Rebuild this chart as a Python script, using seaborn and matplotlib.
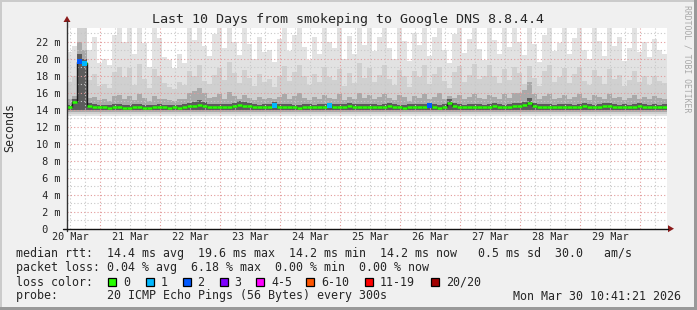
import numpy as np
import pandas as pd
import matplotlib
matplotlib.use("Agg")
import matplotlib.pyplot as plt
import seaborn as sns
from matplotlib.lines import Line2D
from matplotlib.patches import Rectangle, Polygon
from matplotlib.ticker import FixedLocator, FuncFormatter, MultipleLocator

# ---------------- data ----------------
title = "Last 10 Days from smokeping to Google DNS 8.8.4.4"
day_labels = ["20 Mar", "21 Mar", "22 Mar", "23 Mar", "24 Mar",
              "25 Mar", "26 Mar", "27 Mar", "28 Mar", "29 Mar"]
y_major = [0, 2, 4, 6, 8, 10, 12, 14, 16, 18, 20, 22]

# 120 two-hour bins over the 10 days (ms)
smoke_top = [
    20.8, 21.5, 24.0, 24.0, 21.0, 22.5, 19.5, 20.0, 19.2, 22.8,
    24.0, 22.0, 24.0, 20.5, 24.0, 21.8, 19.0, 24.0, 22.4, 20.2,
    19.8, 18.9, 20.6, 19.5, 24.0, 22.2, 24.0, 21.5, 20.3, 22.9,
    24.0, 21.2, 24.0, 22.0, 20.4, 24.0, 21.7, 19.9, 22.6, 20.8,
    21.0, 19.6, 22.3, 24.0, 20.9, 22.8, 24.0, 21.4, 19.8, 22.5,
    20.6, 24.0, 22.0, 21.3, 24.0, 19.9, 22.7, 20.5, 24.0, 21.6,
    24.0, 20.9, 22.5, 24.0, 21.2, 20.0, 24.0, 22.1, 19.7, 23.0,
    21.6, 24.0, 20.3, 22.6, 24.0, 21.0, 19.5, 22.9, 24.0, 20.7,
    22.3, 24.0, 21.1, 19.8, 24.0, 22.2, 20.6, 24.0, 21.4, 24.0,
    22.0, 20.4, 24.0, 21.7, 19.6, 22.8, 24.0, 20.9, 21.8, 24.0,
    20.5, 22.4, 24.0, 21.0, 19.9, 24.0, 22.1, 20.3, 24.0, 21.5,
    22.6, 19.7, 21.3, 24.0, 20.8, 21.9, 20.2, 22.3, 21.0, 20.6]
smoke_upper = [
    17.2, 18.0, 24.0, 24.0, 17.5, 18.2, 16.8, 17.0, 16.6, 18.4,
    19.0, 17.8, 18.9, 16.9, 19.4, 17.6, 16.5, 18.8, 17.9, 17.1,
    16.7, 16.4, 17.3, 16.9, 18.6, 18.0, 19.2, 17.4, 17.0, 18.1,
    18.9, 17.5, 19.6, 18.3, 17.1, 18.7, 17.7, 16.8, 18.2, 17.3,
    17.6, 16.7, 18.0, 19.1, 17.4, 18.4, 19.3, 17.9, 16.9, 18.2,
    17.2, 19.0, 17.8, 17.5, 18.8, 16.8, 18.3, 17.1, 19.5, 17.7,
    18.9, 17.3, 18.1, 19.2, 17.6, 16.9, 18.7, 18.0, 16.7, 18.5,
    17.8, 19.3, 17.0, 18.2, 19.0, 17.4, 16.6, 18.4, 19.1, 17.2,
    18.1, 19.4, 17.6, 17.9, 19.2, 18.0, 17.1, 18.8, 17.5, 19.0,
    18.3, 17.0, 19.1, 17.7, 16.8, 18.5, 19.3, 17.3, 17.8, 18.9,
    17.1, 18.2, 19.0, 17.4, 16.9, 18.7, 17.9, 17.0, 18.8, 17.6,
    18.1, 16.8, 17.5, 18.6, 17.2, 17.9, 16.9, 18.0, 17.4, 17.1]
smoke_core = [
    15.2, 15.6, 22.0, 21.0, 15.4, 15.5, 15.1, 15.3, 15.0, 15.6,
    15.7, 15.3, 15.6, 15.1, 15.8, 15.4, 15.0, 15.6, 15.3, 15.2,
    15.1, 15.0, 15.3, 15.2, 15.9, 16.2, 16.6, 16.0, 15.4, 15.5,
    15.8, 15.3, 16.1, 15.6, 15.2, 15.7, 15.4, 15.1, 15.5, 15.3,
    15.4, 15.2, 15.5, 15.8, 15.3, 15.6, 15.9, 15.4, 15.1, 15.5,
    15.3, 15.7, 15.4, 15.3, 15.8, 15.1, 15.5, 15.2, 15.9, 15.4,
    15.7, 15.3, 15.5, 15.8, 15.4, 15.1, 15.7, 15.5, 15.0, 15.6,
    15.4, 15.8, 15.2, 15.5, 15.9, 15.3, 15.6, 15.4, 15.7, 15.2,
    15.5, 15.8, 15.4, 15.3, 15.7, 15.5, 15.2, 15.8, 15.4, 15.9,
    16.0, 16.3, 17.2, 15.8, 15.3, 15.6, 15.8, 15.3, 15.4, 15.7,
    15.3, 15.5, 15.8, 15.4, 15.1, 15.7, 15.5, 15.2, 15.8, 15.4,
    15.5, 15.1, 15.4, 15.7, 15.3, 15.5, 15.2, 15.6, 15.4, 15.3]
smoke_inner = [
    14.6, 15.2, 20.6, 20.0, 14.8, 14.7, 14.6, 14.6, 14.5, 14.7,
    14.7, 14.6, 14.6, 14.7, 14.7, 14.6, 14.5, 14.6, 14.7, 14.6,
    14.6, 14.6, 14.6, 14.7, 14.8, 14.9, 15.1, 14.9, 14.7, 14.7,
    14.7, 14.7, 14.7, 14.8, 15.0, 14.9, 14.8, 14.7, 14.6, 14.7,
    14.7, 14.9, 14.7, 14.7, 14.7, 14.6, 14.6, 14.7, 14.7, 14.6,
    14.7, 14.7, 14.8, 14.7, 14.7, 14.7, 14.8, 14.7, 14.7, 14.7,
    14.7, 14.7, 14.6, 14.7, 14.8, 14.7, 14.6, 14.6, 14.7, 14.7,
    14.7, 14.7, 14.8, 14.7, 14.6, 14.7, 15.2, 14.8, 14.7, 14.6,
    14.7, 14.7, 14.7, 14.6, 14.7, 14.8, 14.7, 14.6, 14.7, 14.8,
    14.8, 14.9, 15.4, 14.8, 14.7, 14.7, 14.7, 14.6, 14.7, 14.7,
    14.7, 14.6, 14.7, 14.8, 14.7, 14.6, 14.7, 14.8, 14.8, 14.7,
    14.6, 14.7, 14.6, 14.7, 14.8, 14.7, 14.6, 14.7, 14.6, 14.7]
median_rtt = [
    14.30, 14.94, 19.65, 19.45, 14.45, 14.35, 14.30, 14.30, 14.25, 14.30,
    14.30, 14.25, 14.25, 14.35, 14.30, 14.25, 14.25, 14.30, 14.35, 14.30,
    14.25, 14.30, 14.25, 14.35, 14.40, 14.40, 14.50, 14.45, 14.35, 14.30,
    14.30, 14.35, 14.30, 14.40, 14.55, 14.45, 14.40, 14.35, 14.30, 14.35,
    14.30, 14.45, 14.35, 14.30, 14.35, 14.30, 14.25, 14.30, 14.35, 14.30,
    14.35, 14.30, 14.45, 14.35, 14.30, 14.35, 14.40, 14.35, 14.30, 14.35,
    14.30, 14.35, 14.30, 14.35, 14.40, 14.35, 14.30, 14.25, 14.30, 14.35,
    14.30, 14.35, 14.45, 14.35, 14.25, 14.30, 14.75, 14.40, 14.35, 14.30,
    14.35, 14.30, 14.35, 14.30, 14.35, 14.40, 14.35, 14.30, 14.35, 14.40,
    14.45, 14.50, 14.80, 14.45, 14.35, 14.30, 14.35, 14.30, 14.35, 14.30,
    14.35, 14.30, 14.35, 14.40, 14.35, 14.30, 14.35, 14.40, 14.45, 14.35,
    14.30, 14.35, 14.30, 14.35, 14.40, 14.35, 14.30, 14.35, 14.30, 14.35]
smoke_floor = [13.25, 13.5, 13.75, 13.95]        # bottoms of the 4 smoke layers
smoke_colors = ["#e2e2e2", "#d0d0d0", "#a9a9a9", "#5c5c5c"]

loss_bins = [2, 3, 41, 52, 72]
loss_count = [2, 1, 1, 1, 2]

loss_names = ["0", "1", "2", "3", "4-5", "6-10", "11-19", "20/20"]
loss_colors = ["#26ff00", "#00b8ff", "#0059ff", "#7e00ff",
               "#ff00ff", "#ff5500", "#ff0000", "#a10000"]

row_rtt = "median rtt:  14.4 ms avg  19.6 ms max  14.2 ms min  14.2 ms now   0.5 ms sd  30.0   am/s"
row_loss = "packet loss: 0.04 % avg  6.18 % max  0.00 % min  0.00 % now"
row_probe = "probe:       20 ICMP Echo Pings (56 Bytes) every 300s"
stamp = "Mon Mar 30 10:41:21 2026"

# ---------------- layout ----------------
W, H = 697, 310
sns.set_style("white")
plt.rcParams['font.family'] = ['DejaVu Sans Mono']

fig = plt.figure(figsize=(W / 100, H / 100), dpi=100, facecolor="#f0f0f0")
def fx(x): return x / W
def fy(y): return 1 - y / H

X0, X1, YB, YT = 67, 667, 228.7, 28
ax = fig.add_axes([fx(X0), fy(YB), (X1 - X0) / W, (YB - YT) / H])
ax.set_facecolor("white")
for s in ax.spines.values():
    s.set_visible(False)

hours = np.arange(len(median_rtt)) * 2.0 + 1.0
layers = [smoke_top, smoke_upper, smoke_core, smoke_inner]
for top, floor, col in zip(layers, smoke_floor, smoke_colors):
    top = np.asarray(top)
    ax.bar(hours, top - floor, bottom=floor, width=2.0, color=col,
           linewidth=0, zorder=1)

df = pd.DataFrame({"hours": hours, "median": median_rtt})
sns.lineplot(data=df, x="hours", y="median", ax=ax, color="#1a1a1a",
             linewidth=1.0, drawstyle="steps-mid", zorder=4)
med = np.asarray(median_rtt)
ax.hlines(med, hours - 1.0, hours + 1.0, colors=loss_colors[0],
          linewidth=1.8, zorder=5)
ldf = pd.DataFrame({"hours": hours[loss_bins],
                    "median": med[loss_bins],
                    "loss": [loss_names[c] for c in loss_count]})
sns.scatterplot(data=ldf, x="hours", y="median", hue="loss",
                palette=dict(zip(loss_names, loss_colors)), marker="s",
                s=12, linewidth=0, legend=False, ax=ax, zorder=6)

ax.set_xlim(0, 240)
ax.set_ylim(0, 23.6)
ax.set_xlabel("")
ax.set_ylabel("")

# time grid: start is 20 Mar 10:41
start_h = 10 + 41 / 60
first_mid = 24 - start_h
midnights = [first_mid + 24 * k for k in range(10)]
six_h = [first_mid - 12 + 6 * k for k in range(40) if k % 4 != 2]
ax.xaxis.set_major_locator(FixedLocator(midnights))
ax.xaxis.set_minor_locator(FixedLocator(six_h))

def day_fmt(v, pos):
    k = (v - (first_mid - 12)) / 24
    if abs(k - round(k)) < 1e-6 and 0 <= round(k) < len(day_labels):
        return day_labels[int(round(k))]
    return ""
ax.xaxis.set_major_formatter(FuncFormatter(lambda v, p: ""))
ax.xaxis.set_minor_formatter(FuncFormatter(day_fmt))

ax.yaxis.set_major_locator(FixedLocator(y_major))
ax.yaxis.set_minor_locator(MultipleLocator(1))
ax.set_yticklabels([f"{v:2d} m" if v else " 0" for v in y_major],
                   ha="left")
ax.tick_params(axis="y", which="major", direction="out", length=2,
               width=1, color="#444444", pad=20.5, labelsize=7.4)
ax.tick_params(axis="y", which="minor", length=0)
ax.tick_params(axis="x", which="major", direction="out", length=2,
               width=1, color="#c07070")
ax.tick_params(axis="x", which="minor", length=0, pad=2.5, labelsize=7.3)

ax.set_axisbelow(False)
ax.grid(which="minor", color="#c8c8c8", linestyle=(0, (1, 2)), linewidth=0.8)
ax.grid(which="major", color="#e39a9a", linestyle=(0, (1, 2)), linewidth=0.8)

# axes lines and arrows
fig.add_artist(Line2D([fx(67), fx(67)], [fy(YB + 2), fy(21)],
                      color="#333333", lw=1.0))
fig.add_artist(Line2D([fx(63), fx(668)], [fy(YB), fy(YB)],
                      color="#111111", lw=1.0))
fig.add_artist(Polygon([(fx(63.5), fy(22)), (fx(70.5), fy(22)), (fx(67), fy(16))],
                       closed=True, color="#8b1a1a", lw=0))
fig.add_artist(Polygon([(fx(668), fy(YB - 3.5)), (fx(668), fy(YB + 3.5)),
                        (fx(674), fy(YB))], closed=True, color="#8b1a1a", lw=0))

# frame shading
fig.add_artist(Rectangle((0, fy(2)), 1, 2 / H, color="#cbcbcb", lw=0))
fig.add_artist(Rectangle((0, 0), 2 / W, 1, color="#cbcbcb", lw=0))
fig.add_artist(Rectangle((0, 0), 1, 3 / H, color="#999999", lw=0))
fig.add_artist(Rectangle((1 - 3 / W, 0), 3 / W, 1, color="#999999", lw=0))

# texts
fig.text(fx(348), fy(19), title, ha="center", va="center", fontsize=9.6)
fig.text(fx(10), fy(128), "Seconds", rotation=90, ha="center", va="center",
         fontsize=8.4)
fig.text(fx(687), fy(5), "RRDTOOL / TOBI OETIKER", rotation=270, ha="center",
         va="top", fontsize=5.9, color="#a8a8a8")

fs = 8.4
fig.text(fx(16), fy(254), row_rtt, ha="left", va="center", fontsize=fs)
fig.text(fx(16), fy(268), row_loss, ha="left", va="center", fontsize=fs)
fig.text(fx(16), fy(282), "loss color:", ha="left", va="center", fontsize=fs)
fig.text(fx(16), fy(296), row_probe, ha="left", va="center", fontsize=fs)
fig.text(fx(681), fy(296), stamp, ha="right", va="center", fontsize=fs)

box_x = [108, 145.5, 182.5, 219.5, 256, 306, 365, 431]
for bx, name, col in zip(box_x, loss_names, loss_colors):
    fig.add_artist(Rectangle((fx(bx), fy(286)), 8 / W, 8 / H,
                             facecolor=col, edgecolor="black", lw=0.9))
    fig.text(fx(bx + 15), fy(282), name, ha="left", va="center", fontsize=fs)

fig.savefig("out.png", dpi=100, facecolor=fig.get_facecolor())
